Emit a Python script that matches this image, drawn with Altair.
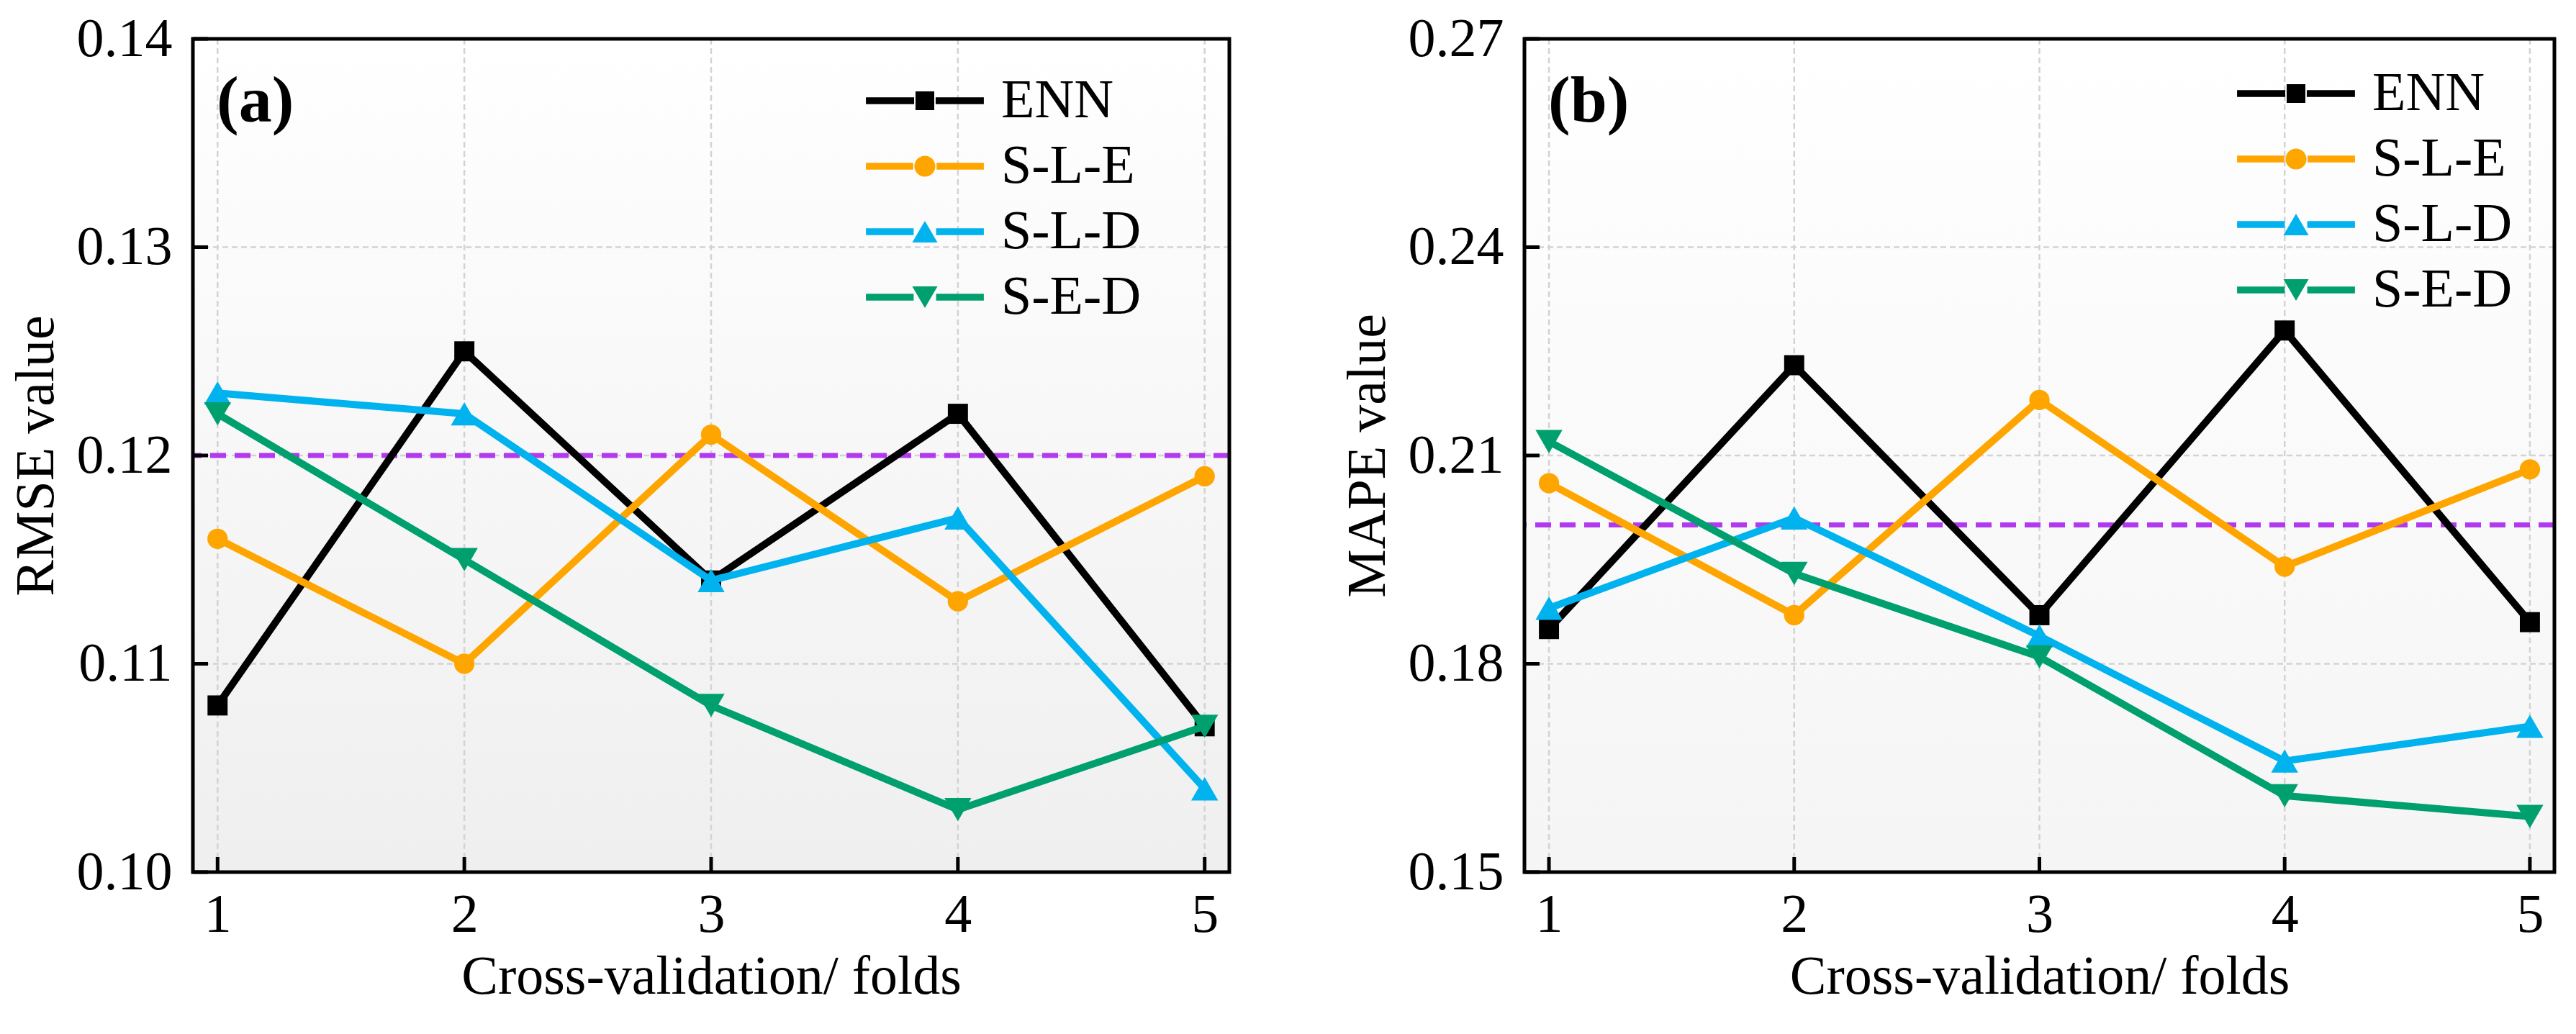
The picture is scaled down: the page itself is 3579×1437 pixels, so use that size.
import altair as alt
import pandas as pd

# ---- data -------------------------------------------------------------
folds = [1, 2, 3, 4, 5]
models = ["ENN", "S-L-E", "S-L-D", "S-E-D"]

rmse_enn = [0.108, 0.125, 0.114, 0.122, 0.107]
rmse_sle = [0.116, 0.110, 0.121, 0.113, 0.119]
rmse_sld = [0.123, 0.122, 0.114, 0.117, 0.104]
rmse_sed = [0.122, 0.115, 0.108, 0.103, 0.107]

mape_enn = [0.185, 0.223, 0.187, 0.228, 0.186]
mape_sle = [0.206, 0.187, 0.218, 0.194, 0.208]
mape_sld = [0.188, 0.201, 0.184, 0.166, 0.171]
mape_sed = [0.212, 0.193, 0.181, 0.161, 0.158]

rmse_ticks = [0.10, 0.11, 0.12, 0.13, 0.14]
mape_ticks = [0.15, 0.18, 0.21, 0.24, 0.27]
rmse_ref = 0.12
mape_ref = 0.20

panel_tags = ["(a)", "(b)"]

# ---- styling ----------------------------------------------------------
FONT = "Liberation Serif"
FS = 76
model_colors = ["#000000", "#FFA500", "#00B2EE", "#00A06E"]
marker_shapes = ["square", "circle", "triangle-up", "triangle-down"]
marker_sizes = [780, 800, 1400, 1400]
ref_color = "#B23AEE"
grid_color = "#d3d3d3"

# legend glyphs: line segments with the series marker in the middle
# (unit = sqrt(symbolSize)/2 = 13 px)
_bar_l = "M-6.3,-0.36H{g}V0.36H-6.3Z"
_bar_r = "M{h},-0.36H6.3V0.36H{h}Z"


def _bars(gap):
    return _bar_l.format(g=-gap) + _bar_r.format(h=gap)


legend_paths = [
    _bars(1.15) + "M-1,-1H1V1H-1Z",
    _bars(1.25) + "M-1.12,0A1.12,1.12,0,1,0,1.12,0A1.12,1.12,0,1,0,-1.12,0Z",
    _bars(1.2) + "M0,-1.15L1.35,1.15L-1.35,1.15Z",
    _bars(1.2) + "M0,1.15L1.35,-1.15L-1.35,-1.15Z",
]


def make_panel(series, y_ticks, ref_value, y_title, tag, width, height,
               shade, legend_x, legend_y):
    df = pd.DataFrame({
        "fold": folds * len(models),
        "model": [m for m in models for _ in folds],
        "value": [v for s in series for v in s],
    })
    fold_df = pd.DataFrame({"fold": folds})
    tick_df = pd.DataFrame({"tick": y_ticks})
    ref_df = pd.DataFrame({"ref": [ref_value]})

    x_scale = alt.Scale(domain=[0.9, 5.1], nice=False, zero=False)
    y_scale = alt.Scale(domain=[y_ticks[0], y_ticks[-1]], nice=False, zero=False)

    x_axis = alt.Axis(
        values=folds, format="d", grid=False, ticks=False, tickSize=0,
        domain=False, labelFont=FONT, labelFontSize=FS, labelColor="black",
        labelPadding=22, labelFlush=False, titleFont=FONT, titleFontSize=FS,
        titleFontWeight="normal", titleColor="black", titlePadding=11,
    )
    y_axis = alt.Axis(
        values=y_ticks, format=".2f", grid=False, ticks=False, tickSize=0,
        domain=False, labelFont=FONT, labelFontSize=FS, labelColor="black",
        labelPadding=29, labelFlush=False, titleFont=FONT, titleFontSize=FS,
        titleFontWeight="normal", titleColor="black", titlePadding=17,
    )

    def X(field):
        return alt.X(field, scale=x_scale, axis=x_axis,
                     title="Cross-validation/ folds")

    def Y(field):
        return alt.Y(field, scale=y_scale, axis=y_axis, title=y_title)

    background = alt.Chart(alt.Data(values=[{}])).mark_rect(
        fill=alt.Gradient(
            gradient="linear", x1=0, x2=0, y1=0, y2=1,
            stops=[alt.GradientStop(offset=0, color="#ffffff"),
                   alt.GradientStop(offset=1, color=shade)],
        )
    ).encode(x=alt.value(0), x2=alt.value(width), y=alt.value(0), y2=alt.value(height))

    vgrid = alt.Chart(fold_df).mark_rule(
        color=grid_color, strokeWidth=2.5, strokeDash=[8, 5]
    ).encode(x=X("fold:Q"))

    hgrid = alt.Chart(tick_df).mark_rule(
        color=grid_color, strokeWidth=2.5, strokeDash=[8, 5]
    ).encode(y=Y("tick:Q"))

    ref_line = alt.Chart(ref_df).mark_rule(
        color=ref_color, strokeWidth=7, strokeDash=[22, 12]
    ).encode(y=Y("ref:Q"))

    series_layers = []
    for m, c, shp, sz in zip(models, model_colors, marker_shapes, marker_sizes):
        base = alt.Chart(df).transform_filter(alt.datum.model == m).encode(
            x=X("fold:Q"), y=Y("value:Q"),
        )
        series_layers.append(base.mark_line(color=c, strokeWidth=10))
        series_layers.append(base.mark_point(
            shape=shp, size=sz, filled=True, opacity=1, color=c, strokeWidth=0))

    x_ticks_in = alt.Chart(fold_df).mark_rule(color="black", strokeWidth=5).encode(
        x=X("fold:Q"), y=alt.value(height), y2=alt.value(height - 21),
    )
    y_ticks_in = alt.Chart(tick_df).mark_rule(color="black", strokeWidth=5).encode(
        y=Y("tick:Q"), x=alt.value(0), x2=alt.value(21),
    )

    tag_text = alt.Chart(alt.Data(values=[{"tag": tag}])).mark_text(
        align="left", baseline="middle", font=FONT, fontSize=92,
        fontWeight="bold", color="black",
    ).encode(text="tag:N", x=alt.value(33), y=alt.value(87))

    border = alt.Chart(alt.Data(values=[{}])).mark_rect(
        filled=False, stroke="black", strokeWidth=5
    ).encode(x=alt.value(0), x2=alt.value(width), y=alt.value(0), y2=alt.value(height))

    legend = alt.Legend(
        title=None, orient="none", legendX=legend_x, legendY=legend_y,
        padding=0, labelFont=FONT, labelFontSize=FS, labelColor="black",
        labelOffset=68, labelLimit=600, rowPadding=15, symbolSize=676,
        symbolStrokeWidth=0, symbolOpacity=1,
    )
    legend_layer = alt.Chart(df).transform_filter("datum.fold < 0").mark_point(
        filled=True, opacity=1
    ).encode(
        color=alt.Color("model:N", scale=alt.Scale(domain=models, range=model_colors),
                        legend=legend),
        shape=alt.Shape("model:N", scale=alt.Scale(domain=models, range=legend_paths),
                        legend=legend),
    )

    return alt.layer(
        background, vgrid, hgrid, ref_line, *series_layers,
        x_ticks_in, y_ticks_in, tag_text, border, legend_layer,
    ).properties(width=width, height=height)


panel_a = make_panel(
    [rmse_enn, rmse_sle, rmse_sld, rmse_sed], rmse_ticks, rmse_ref,
    "RMSE value", panel_tags[0], 1440, 1158, "#efefef", 979, 48,
)
panel_b = make_panel(
    [mape_enn, mape_sle, mape_sld, mape_sed], mape_ticks, mape_ref,
    "MAPE value", panel_tags[1], 1431, 1158, "#f5f5f5", 1034, 38,
)

chart = alt.hconcat(panel_a, panel_b, spacing=150).resolve_scale(
    color="independent", shape="independent"
).resolve_legend(
    color="independent", shape="independent"
).properties(
    padding={"left": 12, "top": 16, "right": 0, "bottom": 0},
    background="white",
).configure_view(stroke=None)

chart.save("out.html", embed_options={"renderer": "svg", "actions": False})
